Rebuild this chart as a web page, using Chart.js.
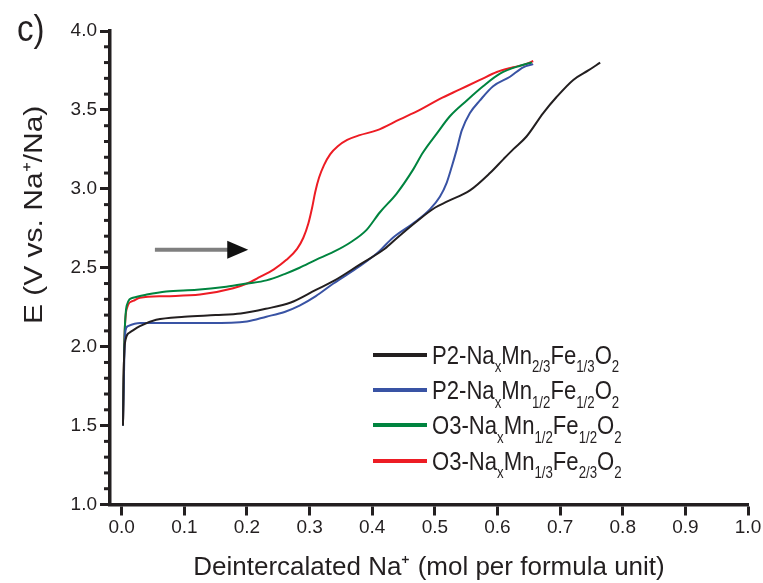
<!DOCTYPE html>
<html>
<head>
<meta charset="utf-8">
<script src="https://cdn.jsdelivr.net/npm/chart.js@4.4.1/dist/chart.umd.min.js"></script>
<style>
    body { margin: 0; background: #fff; }
    #wrap { position: relative; width: 763px; height: 583px; }
    #legend { position: absolute; left: 373px; top: 337px; margin: 0; padding: 0; list-style: none;
              font: 26px 'Liberation Sans', Arial, sans-serif; color: #231f20; }
    #legend li { display: flex; align-items: center; height: 35.3px; }
    #legend .swatch { width: 54px; height: 4px; margin-right: 5px; flex: none; }
    #legend span.txt { display: inline-block; line-height: 1; white-space: nowrap;
                       transform: scaleX(0.85); transform-origin: left center; }
    #legend sub { font-size: 0.6em; vertical-align: baseline; position: relative; top: 0.55em; line-height: 1; }
</style>
</head>
<body>
<div id="wrap">
    <canvas id="grafico" width="763" height="583"></canvas>
    <ul id="legend"></ul>
</div>
<script>
// legend names (with subscripts) and colours
const nomes = [
    'P2-Na<sub>x</sub>Mn<sub>2/3</sub>Fe<sub>1/3</sub>O<sub>2</sub>',
    'P2-Na<sub>x</sub>Mn<sub>1/2</sub>Fe<sub>1/2</sub>O<sub>2</sub>',
    'O3-Na<sub>x</sub>Mn<sub>1/2</sub>Fe<sub>1/2</sub>O<sub>2</sub>',
    'O3-Na<sub>x</sub>Mn<sub>1/3</sub>Fe<sub>2/3</sub>O<sub>2</sub>'
];
const cores = ['#231f20', '#3953a4', '#00843f', '#ed1c24'];

// P2 Mn2/3 Fe1/3 (black)
const p2aX = [0.002, 0.003, 0.005, 0.013, 0.029, 0.055, 0.10, 0.15, 0.19, 0.23, 0.27, 0.31, 0.34, 0.38, 0.42, 0.44, 0.47, 0.50, 0.52, 0.556, 0.588, 0.61, 0.625, 0.646, 0.673, 0.694, 0.721, 0.745, 0.764];
const p2aY = [1.50, 1.80, 2.02, 2.09, 2.13, 2.17, 2.19, 2.20, 2.21, 2.24, 2.28, 2.36, 2.42, 2.52, 2.62, 2.69, 2.79, 2.88, 2.92, 2.99, 3.10, 3.19, 3.25, 3.33, 3.48, 3.58, 3.69, 3.75, 3.80];

// P2 Mn1/2 Fe1/2 (blue)
const p2bX = [0.002, 0.004, 0.006, 0.01, 0.03, 0.08, 0.14, 0.20, 0.231, 0.26, 0.284, 0.31, 0.338, 0.38, 0.41, 0.433, 0.465, 0.492, 0.508, 0.519, 0.527, 0.535, 0.543, 0.556, 0.572, 0.593, 0.62, 0.641, 0.657];
const p2bY = [1.50, 1.90, 2.10, 2.13, 2.15, 2.15, 2.15, 2.16, 2.19, 2.22, 2.26, 2.32, 2.40, 2.51, 2.60, 2.69, 2.78, 2.87, 2.95, 3.04, 3.14, 3.25, 3.37, 3.48, 3.56, 3.65, 3.71, 3.77, 3.79];

// O3 Mn1/2 Fe1/2 (green)
const o3aX = [0.002, 0.004, 0.008, 0.018, 0.04, 0.071, 0.12, 0.167, 0.20, 0.231, 0.26, 0.284, 0.31, 0.338, 0.365, 0.391, 0.412, 0.439, 0.465, 0.481, 0.503, 0.524, 0.551, 0.577, 0.604, 0.636, 0.655];
const o3aY = [1.50, 2.00, 2.26, 2.31, 2.33, 2.35, 2.36, 2.38, 2.40, 2.42, 2.46, 2.50, 2.55, 2.60, 2.66, 2.74, 2.85, 2.97, 3.12, 3.23, 3.35, 3.46, 3.56, 3.65, 3.73, 3.78, 3.80];

// O3 Mn1/3 Fe2/3 (red)
const o3bX = [0.002, 0.004, 0.008, 0.018, 0.029, 0.07, 0.125, 0.178, 0.20, 0.22, 0.243, 0.263, 0.28, 0.29, 0.298, 0.304, 0.309, 0.315, 0.323, 0.333, 0.345, 0.36, 0.38, 0.407, 0.444, 0.476, 0.508, 0.540, 0.572, 0.599, 0.625, 0.645, 0.657];
const o3bY = [1.50, 2.00, 2.24, 2.29, 2.31, 2.32, 2.33, 2.37, 2.40, 2.44, 2.49, 2.55, 2.62, 2.69, 2.78, 2.88, 2.98, 3.07, 3.15, 3.22, 3.27, 3.31, 3.34, 3.37, 3.44, 3.50, 3.57, 3.63, 3.69, 3.74, 3.77, 3.79, 3.81];

// ticks
const xTicks = [0.0, 0.1, 0.2, 0.3, 0.4, 0.5, 0.6, 0.7, 0.8, 0.9, 1.0];
const yTicks = [1.0, 1.5, 2.0, 2.5, 3.0, 3.5, 4.0];
const yMinor = [1.1, 1.2, 1.3, 1.4, 1.6, 1.7, 1.8, 1.9, 2.1, 2.2, 2.3, 2.4, 2.6, 2.7, 2.8, 2.9, 3.1, 3.2, 3.3, 3.4, 3.6, 3.7, 3.8, 3.9];

// charge direction arrow (data units)
const setaX = [0.053, 0.202];
const setaY = 2.614;

const FONTE = "'Liberation Sans', Arial, sans-serif";
const TINTA = '#231f20';

function pontos(xs, ys) {
    return xs.map((x, i) => ({ x: x, y: ys[i] }));
}

const series = [[p2aX, p2aY], [p2bX, p2bY], [o3aX, o3aY], [o3bX, o3bY]];

const extras = {
    id: 'extras',
    afterDraw(chart) {
        const c = chart.ctx;
        const xs = chart.scales.x, ys = chart.scales.y;
        const left = chart.chartArea.left;

        // minor ticks on y
        c.save();
        c.strokeStyle = TINTA;
        c.lineWidth = 3;
        yMinor.forEach(v => {
            const py = ys.getPixelForValue(v);
            c.beginPath();
            c.moveTo(left - 6, py);
            c.lineTo(left, py);
            c.stroke();
        });
        c.restore();

        // y title (figure was squeezed sideways, so glyphs are narrow)
        c.save();
        c.fillStyle = TINTA;
        c.font = '30px ' + FONTE;
        c.textAlign = 'center';
        c.textBaseline = 'middle';
        c.translate(35, ys.getPixelForValue(2.835));
        c.rotate(-Math.PI / 2);
        c.scale(1, 0.85);
        c.fillText('E (V vs. Na\u207A/Na)', 0, 0);
        c.restore();

        // panel letter
        c.save();
        c.fillStyle = TINTA;
        c.font = '36px ' + FONTE;
        c.textBaseline = 'alphabetic';
        c.translate(17, 41);
        c.scale(0.92, 1);
        c.fillText('c)', 0, 0);
        c.restore();

        // arrow
        const x0 = xs.getPixelForValue(setaX[0]);
        const x1 = xs.getPixelForValue(setaX[1]);
        const py = ys.getPixelForValue(setaY);
        c.save();
        c.strokeStyle = '#7f7f7f';
        c.lineWidth = 4;
        c.beginPath();
        c.moveTo(x0, py);
        c.lineTo(x1 - 18, py);
        c.stroke();
        c.fillStyle = '#111';
        c.beginPath();
        c.moveTo(x1, py);
        c.lineTo(x1 - 21, py - 9);
        c.lineTo(x1 - 21, py + 9);
        c.closePath();
        c.fill();
        c.restore();
    }
};

const htmlLegend = {
    id: 'htmlLegend',
    afterUpdate(chart) {
        const ul = document.getElementById('legend');
        ul.innerHTML = '';
        chart.data.datasets.forEach((ds, i) => {
            const li = document.createElement('li');
            li.innerHTML = '<div class="swatch" style="background:' + ds.borderColor + '"></div><span class="txt">' + nomes[i] + '</span>';
            ul.appendChild(li);
        });
    }
};

const ctx = document.getElementById('grafico').getContext('2d');

const grafico = new Chart(ctx, {
    type: 'line',
    data: {
        datasets: series.map((s, i) => ({
            label: nomes[i].replace(/<[^>]+>/g, ''),
            data: pontos(s[0], s[1]),
            borderColor: cores[i],
            backgroundColor: cores[i],
            borderWidth: 2,
            pointRadius: 0,
            fill: false,
            cubicInterpolationMode: 'monotone'
        }))
    },
    options: {
        responsive: false,
        animation: false,
        layout: { padding: { top: 31, right: 15, left: 0, bottom: 0 } },
        plugins: {
            legend: { display: false },
            tooltip: { enabled: false }
        },
        scales: {
            x: {
                type: 'linear',
                min: -0.0187,
                max: 1.0,
                afterBuildTicks: s => { s.ticks = xTicks.map(v => ({ value: v })); },
                afterFit: s => { s.height = 78.5; },
                border: { color: TINTA, width: 3.5 },
                grid: { drawOnChartArea: false, tickLength: 11, tickWidth: 3, tickColor: TINTA },
                ticks: {
                    color: TINTA, font: { family: FONTE, size: 19 }, padding: 1,
                    maxRotation: 0, autoSkip: false,
                    callback: v => v.toFixed(1)
                },
                title: {
                    display: true,
                    text: 'Deintercalated Na\u207A (mol per formula unit)',
                    color: TINTA,
                    font: { family: FONTE, size: 26 },
                    padding: { top: 0, bottom: 0 }
                }
            },
            y: {
                min: 1.0,
                max: 4.0,
                afterBuildTicks: s => { s.ticks = yTicks.map(v => ({ value: v })); },
                afterFit: s => { s.width = 110; },
                border: { color: TINTA, width: 3.5 },
                grid: { drawOnChartArea: false, tickLength: 10, tickWidth: 3, tickColor: TINTA },
                ticks: {
                    color: TINTA, font: { family: FONTE, size: 19 }, padding: 3,
                    callback: v => v.toFixed(1)
                }
            }
        }
    },
    plugins: [extras, htmlLegend]
});
</script>
</body>
</html>
